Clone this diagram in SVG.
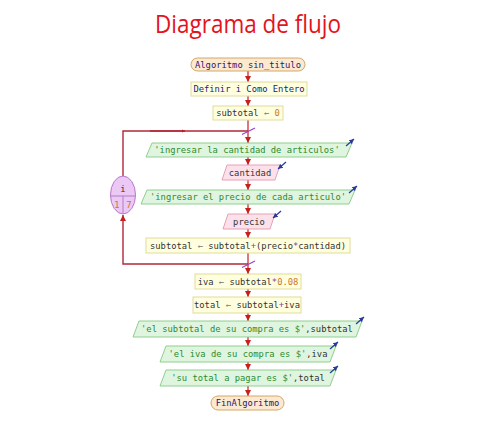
<svg xmlns="http://www.w3.org/2000/svg" width="488" height="429" viewBox="0 0 488 429">
<defs>
<marker id="ah" viewBox="0 0 6 6" refX="6" refY="3" markerWidth="6" markerHeight="6" markerUnits="userSpaceOnUse" orient="auto"><path d="M0,0 L6,3 L0,6 z" fill="#c81e1e"/></marker>
<marker id="as" viewBox="0 0 6 6" refX="6" refY="3" markerWidth="3.5" markerHeight="3.5" markerUnits="userSpaceOnUse" orient="auto"><path d="M0,0 L6,3 L0,6 z" fill="#c81e1e"/></marker>
<marker id="ab" viewBox="0 0 6 6" refX="6" refY="3" markerWidth="5" markerHeight="5" markerUnits="userSpaceOnUse" orient="auto"><path d="M0,0 L6,3 L0,6 z" fill="#2a3a9a"/></marker>
</defs>
<style>
.t{font-family:"DejaVu Sans Mono","Liberation Mono",monospace;font-size:8.8px;text-anchor:middle;dominant-baseline:central;fill:#333}
.kw{fill:#1a1a80}
.num{fill:#c8782a}
.op{fill:#8a3aa0}
.str{fill:#2e8b2e}
.ar{fill:#777}
.term{fill:#fde9cf;stroke:#d2a86a;stroke-width:1}
.proc{fill:#ffffe0;stroke:#e2dc9a;stroke-width:1}
.out{fill:#dff5df;stroke:#8fcf8f;stroke-width:1}
.inp{fill:#fde1ea;stroke:#e2a2b8;stroke-width:1}
.c{stroke:#c81e1e;stroke-width:1.2;fill:none}
.loop{stroke:#b0283a;stroke-width:1.4;fill:none}
.sl{stroke:#9a40c8;stroke-width:1.2}
.io{stroke:#2a3a9a;stroke-width:1.2}
</style>
<text x="248" y="33" font-family="'Open Sans','Liberation Sans',sans-serif" font-size="25" fill="#e3141c" text-anchor="middle" textLength="186" lengthAdjust="spacingAndGlyphs">Diagrama de flujo</text>
<g id="connectors">
<line class="c" x1="248" y1="71" x2="248" y2="82" marker-end="url(#ah)"/>
<line class="c" x1="248" y1="96" x2="248" y2="106" marker-end="url(#ah)"/>
<line class="c" x1="248" y1="120" x2="248" y2="143" marker-end="url(#ah)"/>
<line class="c" x1="248" y1="157" x2="248" y2="165" marker-end="url(#ah)"/>
<line class="c" x1="248" y1="180" x2="248" y2="190" marker-end="url(#ah)"/>
<line class="c" x1="248" y1="204" x2="248" y2="214" marker-end="url(#ah)"/>
<line class="c" x1="248" y1="229" x2="248" y2="238" marker-end="url(#ah)"/>
<line class="c" x1="248" y1="253" x2="248" y2="274" marker-end="url(#ah)"/>
<line class="c" x1="248" y1="289" x2="248" y2="297" marker-end="url(#ah)"/>
<line class="c" x1="248" y1="313" x2="248" y2="321" marker-end="url(#ah)"/>
<line class="c" x1="248" y1="337" x2="248" y2="346" marker-end="url(#ah)"/>
<line class="c" x1="248" y1="362" x2="248" y2="370" marker-end="url(#ah)"/>
<line class="c" x1="248" y1="386" x2="248" y2="396" marker-end="url(#ah)"/>
<polyline class="loop" points="248,264 123,264 123,215" marker-end="url(#ah)"/>
<polyline class="loop" points="123,176 123,131 248,131"/>
<line class="loop" x1="150" y1="131" x2="185" y2="131" marker-end="url(#as)"/>
<line class="sl" x1="242" y1="134.5" x2="255" y2="128"/>
<line class="sl" x1="242" y1="267.5" x2="255" y2="261"/>
</g>
<g id="n1"><rect class="term" x="191" y="58" width="114" height="13" rx="6.5"/><text class="t kw" x="248" y="64.5">Algoritmo sin_titulo</text></g>
<g id="n2"><rect class="proc" x="191" y="82" width="116" height="14"/><text class="t kw" x="249" y="89">Definir i Como Entero</text></g>
<g id="n3"><rect class="proc" x="213" y="106" width="70" height="14"/><text class="t" x="248" y="113">subtotal <tspan class="ar">←</tspan> <tspan class="num">0</tspan></text></g>
<g id="n4"><polygon class="out" points="152,143 352,143 346,157 146,157"/><text class="t str" x="247" y="150">'ingresar la cantidad de articulos'</text><line class="io" x1="346" y1="146" x2="354" y2="139" marker-end="url(#ab)"/></g>
<g id="n5"><polygon class="inp" points="227,165 280,165 275,180 222,180"/><text class="t" x="250" y="172.5">cantidad</text><line class="io" x1="286" y1="162" x2="278" y2="169" marker-end="url(#ab)"/></g>
<g id="n6"><polygon class="out" points="147,190 355,190 349,204 141,204"/><text class="t str" x="248" y="197">'ingresar el precio de cada articulo'</text><line class="io" x1="349" y1="193" x2="357" y2="186" marker-end="url(#ab)"/></g>
<g id="n7"><polygon class="inp" points="228,214 275,214 270,229 223,229"/><text class="t" x="249" y="221.5">precio</text><line class="io" x1="281" y1="211" x2="273" y2="218" marker-end="url(#ab)"/></g>
<g id="n8"><rect class="proc" x="146" y="238" width="204" height="15"/><text class="t" x="248" y="245.5">subtotal <tspan class="ar">←</tspan> subtotal<tspan class="op">+</tspan>(precio<tspan class="op">*</tspan>cantidad)</text></g>
<g id="n9"><rect class="proc" x="195" y="274" width="106" height="15"/><text class="t" x="248" y="281.5">iva <tspan class="ar">←</tspan> subtotal<tspan class="op">*</tspan><tspan class="num">0.08</tspan></text></g>
<g id="n10"><rect class="proc" x="193" y="297" width="108" height="16"/><text class="t" x="247" y="305">total <tspan class="ar">←</tspan> subtotal<tspan class="op">+</tspan>iva</text></g>
<g id="n11"><polygon class="out" points="139,321 362,321 356,337 133,337"/><text class="t" x="247" y="329"><tspan class="str">'el subtotal de su compra es $'</tspan>,subtotal</text><line class="io" x1="356" y1="324" x2="364" y2="317" marker-end="url(#ab)"/></g>
<g id="n12"><polygon class="out" points="166,346 336,346 330,362 160,362"/><text class="t" x="248" y="354"><tspan class="str">'el iva de su compra es $'</tspan>,iva</text><line class="io" x1="330" y1="349" x2="338" y2="342" marker-end="url(#ab)"/></g>
<g id="n13"><polygon class="out" points="166,370 336,370 330,386 160,386"/><text class="t" x="248" y="378"><tspan class="str">'su total a pagar es $'</tspan>,total</text><line class="io" x1="330" y1="373" x2="338" y2="366" marker-end="url(#ab)"/></g>
<g id="n14"><rect class="term" x="211" y="396" width="73" height="14" rx="7"/><text class="t kw" x="247.5" y="403">FinAlgoritmo</text></g>
<g id="loopnode"><ellipse cx="123" cy="195" rx="12.5" ry="19" fill="#ecc8f4" stroke="#b67ac8" stroke-width="1"/><line x1="110.5" y1="196" x2="135.5" y2="196" stroke="#b67ac8" stroke-width="1"/><line x1="123" y1="196" x2="123" y2="214" stroke="#b67ac8" stroke-width="1"/><text class="t" x="123" y="189">i</text><text class="t num" x="117" y="204.5">1</text><text class="t num" x="129" y="204.5">7</text></g>
</svg>
